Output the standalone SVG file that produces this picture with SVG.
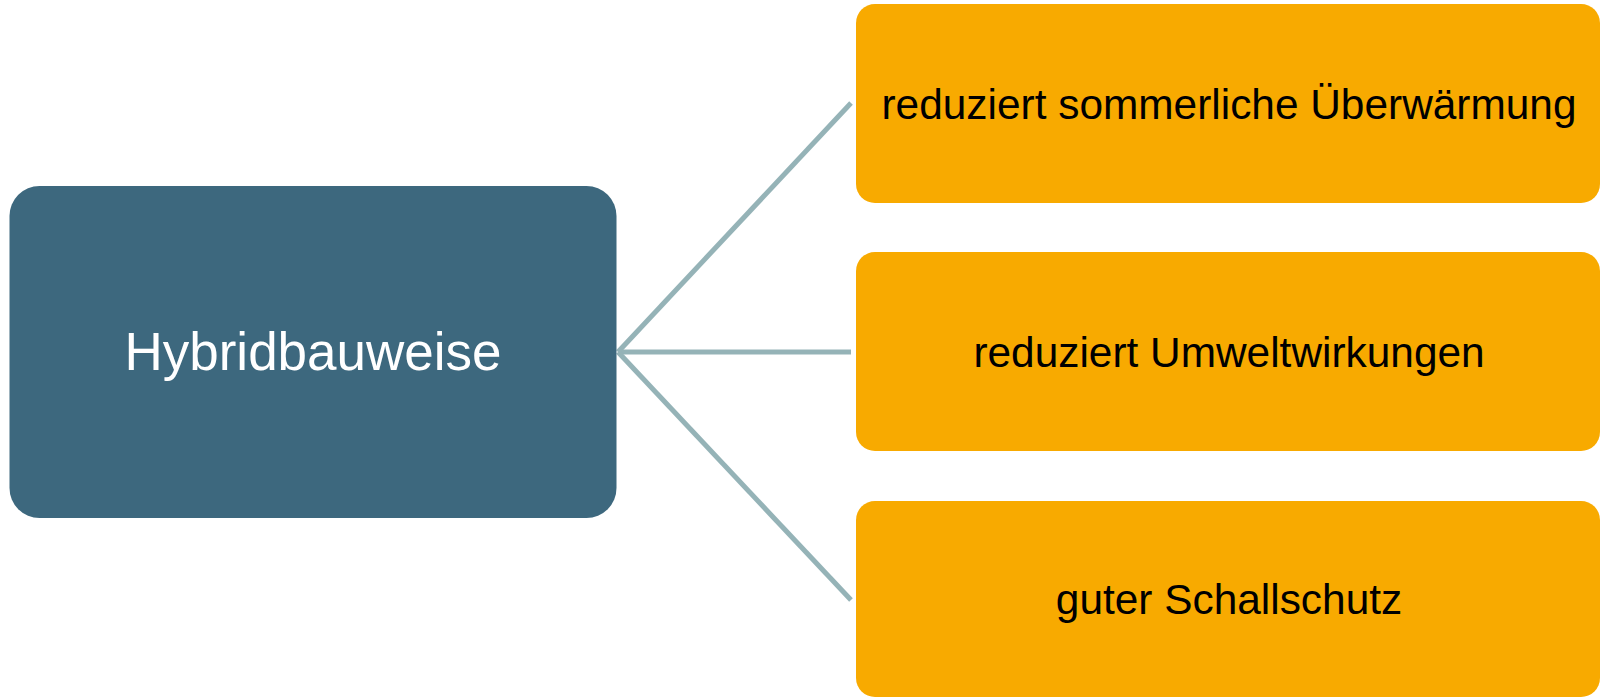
<svg xmlns="http://www.w3.org/2000/svg" width="1600" height="697" viewBox="0 0 1600 697">
  <style>
    .conn { stroke: #95B3B7; stroke-width: 5; fill: none; }
    .main { fill: #3D687E; }
    .leaf { fill: #F8AA00; }
    .mainText { font-family: "Liberation Sans", Arial, sans-serif; font-size: 53px; fill: #FFFFFF; text-anchor: middle; }
    .leafText { font-family: "Liberation Sans", Arial, sans-serif; font-size: 42.4px; fill: #000000; text-anchor: middle; }
  </style>
  <rect width="1600" height="697" fill="#FFFFFF"/>
  <g id="connectors">
    <line class="conn" x1="618" y1="352" x2="851" y2="103"/>
    <line class="conn" x1="618" y1="352" x2="851" y2="352"/>
    <line class="conn" x1="618" y1="352" x2="851" y2="600"/>
  </g>
  <g id="node-hybridbauweise">
    <rect class="main" x="9.5" y="186" width="607" height="332" rx="30" ry="30"/>
    <text class="mainText" x="313" y="370">Hybridbauweise</text>
  </g>
  <g id="node-ueberwaermung">
    <rect class="leaf" x="856" y="4" width="744" height="199" rx="19" ry="19"/>
    <text class="leafText" x="1229" y="119">reduziert sommerliche Überwärmung</text>
  </g>
  <g id="node-umweltwirkungen">
    <rect class="leaf" x="856" y="252" width="744" height="199" rx="19" ry="19"/>
    <text class="leafText" x="1229" y="367">reduziert Umweltwirkungen</text>
  </g>
  <g id="node-schallschutz">
    <rect class="leaf" x="856" y="501" width="744" height="196" rx="19" ry="19"/>
    <text class="leafText" x="1229" y="614">guter Schallschutz</text>
  </g>
</svg>
